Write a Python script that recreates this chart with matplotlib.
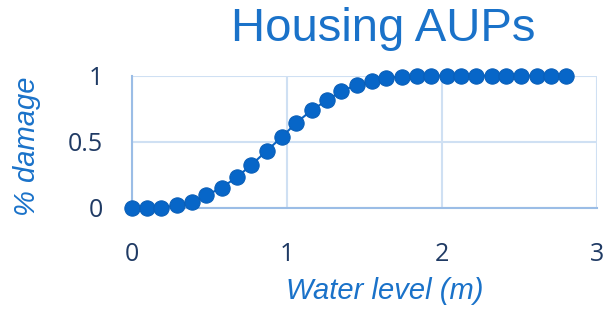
import matplotlib

matplotlib.use("Agg")
import matplotlib.pyplot as plt

# water level (m) and fraction of damage
water_level = [0.00, 0.10, 0.19, 0.29, 0.39, 0.48, 0.58, 0.68, 0.77, 0.87,
               0.97, 1.06, 1.16, 1.26, 1.35, 1.45, 1.55, 1.64, 1.74, 1.84,
               1.93, 2.03, 2.12, 2.22, 2.32, 2.41, 2.51, 2.61, 2.70, 2.80]
damage = [0.0, 0.0, 0.0, 0.018, 0.045, 0.094, 0.152, 0.235, 0.323, 0.432,
          0.538, 0.644, 0.738, 0.816, 0.882, 0.930, 0.960, 0.985, 0.992, 1.0,
          1.0, 1.0, 1.0, 1.0, 1.0, 1.0, 1.0, 1.0, 1.0, 1.0]
x_ticks = [0, 1, 2, 3]
y_ticks = [0, 0.5, 1]
y_tick_labels = ["0", "0.5", "1"]

blue = "#1a72c9"
tick_col = "#1f3a64"

fig = plt.figure(figsize=(6.08, 3.10), dpi=100)
ax = fig.add_axes([0.217, 0.33, 0.765, 0.426])

ax.plot(water_level, damage, color="#0a64c4", lw=1.5, marker="o", ms=11,
        markerfacecolor="#0766c8", markeredgecolor="#0a5fb8", mew=0.8,
        clip_on=False, zorder=3)

ax.set_xlim(0, 3)
ax.set_ylim(0, 1)
ax.set_xticks(x_ticks)
ax.set_yticks(y_ticks)
ax.set_yticklabels(y_tick_labels)
ax.tick_params(length=0, labelsize=18, labelcolor=tick_col)
ax.tick_params(axis="x", pad=25)
ax.tick_params(axis="y", pad=21)
for lbl in ax.get_xticklabels() + ax.get_yticklabels():
    lbl.set_fontfamily("Open Sans")

ax.grid(True, color="#cfe0f3", lw=1.5)
ax.set_axisbelow(True)
for s in ["top", "right"]:
    ax.spines[s].set_visible(False)
ax.spines["left"].set_color("#9bbde6")
ax.spines["bottom"].set_color("#9bbde6")
ax.spines["left"].set_linewidth(1.5)
ax.spines["bottom"].set_linewidth(1.5)

ax.set_xlabel("Water level (m)", fontsize=21, style="italic", color=blue,
              family="Liberation Sans")
ax.set_ylabel("% damage", fontsize=21, style="italic", color=blue,
              family="Liberation Sans")
ax.xaxis.set_label_coords(0.543, -0.525)
ax.yaxis.set_label_coords(-0.195, 0.467)
fig.text(0.63, 0.906, "Housing AUPs", fontsize=34, color=blue,
         family="Liberation Sans", ha="center", va="center")

fig.savefig("out.png", dpi=100)
